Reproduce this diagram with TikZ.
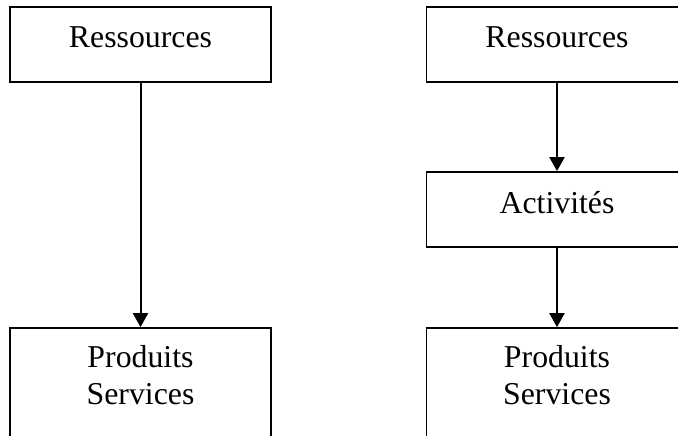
\documentclass[tikz,border=0pt]{standalone}
\usepackage{fontspec}
\setmainfont{Liberation Serif}
\usetikzlibrary{arrows.meta}
\begin{document}
\begin{tikzpicture}[x=1pt,y=-1pt,
  % single-line box: text sits a little above the middle
  box/.style={draw, line width=1.7pt, minimum width=261pt, minimum height=75pt,
    inner xsep=0pt, inner ysep=20pt, text height=21pt, text depth=14pt,
    font=\fontsize{31.8}{37}\selectfont},
  % tall box whose lower edge runs off the page
  openbox/.style={draw, line width=1.7pt, minimum width=261pt, minimum height=150pt},
  txt/.style={inner sep=0pt, font=\fontsize{31.8}{37}\selectfont},
  link/.style={line width=2pt, -{Triangle[width=15pt,length=14pt]}}]
\useasboundingbox (0,0) rectangle (678,436);
\clip (0,0) rectangle (678,436);

% left chain
\node[box] (r1) at (140.5,44.5) {Ressources};
\node[openbox] (p1) at (140.5,403) {};
\node[txt, anchor=base] (p1a) at (140.5,367) {Produits};
\node[txt, anchor=base] (p1b) at (140.5,404) {Services};
\draw[link] (r1) -- (p1);

% right chain
\node[box] (r2) at (557,44.5) {Ressources};
\node[box] (a2) at (557,209.5) {Activités};
\node[openbox] (p2) at (557,403) {};
\node[txt, anchor=base] (p2a) at (557,367) {Produits};
\node[txt, anchor=base] (p2b) at (557,404) {Services};
\draw[link] (r2) -- (a2);
\draw[link] (a2) -- (p2);
\end{tikzpicture}
\end{document}
